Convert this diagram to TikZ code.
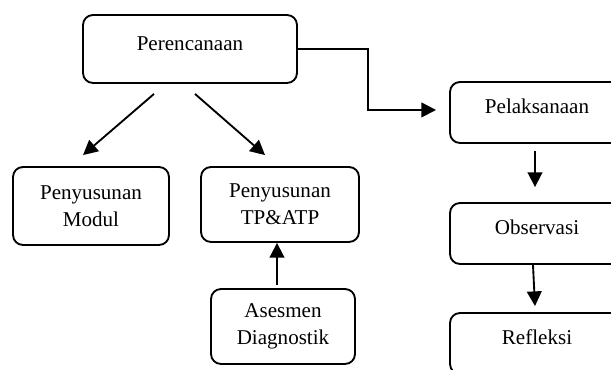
\documentclass[tikz,border=0pt]{standalone}
\usepackage{fontspec}
\setmainfont{Liberation Serif}
\usetikzlibrary{arrows,arrows.meta,positioning}

\begin{document}
\begin{tikzpicture}[x=0.75pt,y=-0.75pt]
		\tikzstyle{box}=[draw,line width=1.4pt,rounded corners=7.5pt,align=center,inner sep=0pt,font=\fontsize{15.8pt}{20pt}\selectfont]
		\tikzstyle{oneline}=[text height=12pt,text depth=10pt]
		\tikzstyle{flow}=[line width=1.4pt,arrows={-Triangle[length=11pt,width=11pt]}]
		
		\useasboundingbox (0,0) rectangle (611,370);
		\clip (0,0) rectangle (611,370);
		
		% planning side
		\node[box,oneline,minimum width=160.5pt,minimum height=51pt] (per) at (190,49) {Perencanaan};
		\node[box,minimum width=117pt,minimum height=58.5pt] (modul) at (91,206) {Penyusunan\\Modul};
		\node[box,minimum width=118.5pt,minimum height=56.25pt] (tp) at (280,204.5) {Penyusunan\\TP\&ATP};
		\node[box,minimum width=108pt,minimum height=56.25pt] (asm) at (283,326.5) {Asesmen\\Diagnostik};
		
		% cycle side
		\node[box,oneline,minimum width=130.5pt,minimum height=45.75pt] (pel) at (537,112.5) {Pelaksanaan};
		\node[box,oneline,minimum width=130.5pt,minimum height=45.75pt] (obs) at (537,233.5) {Observasi};
		\node[box,oneline,minimum width=130.5pt,minimum height=45.75pt] (ref) at (537,343.5) {Refleksi};
		
		\draw[flow] ([xshift=-27pt,yshift=-7.5pt]per.south) -- ([xshift=-6pt,yshift=8.25pt]modul.north);
		\draw[flow] ([xshift=3.75pt,yshift=-7.5pt]per.south) -- ([xshift=-11.25pt,yshift=8.25pt]tp.north);
		\draw[flow] ([xshift=-4.5pt,yshift=2.25pt]asm.north) -- ([xshift=-2.25pt]tp.south);
		\draw[flow] (per.east) -- ++(70,0) |- ([xshift=-9.75pt,yshift=1.9pt]pel.west);
		\draw[flow] ([xshift=-1.5pt,yshift=-5.25pt]pel.south) -- ([xshift=-1.5pt,yshift=11.25pt]obs.north);
		\draw[flow] ([xshift=-3pt]obs.south) -- ([xshift=-1.5pt,yshift=4.5pt]ref.north);
\end{tikzpicture}
\end{document}
